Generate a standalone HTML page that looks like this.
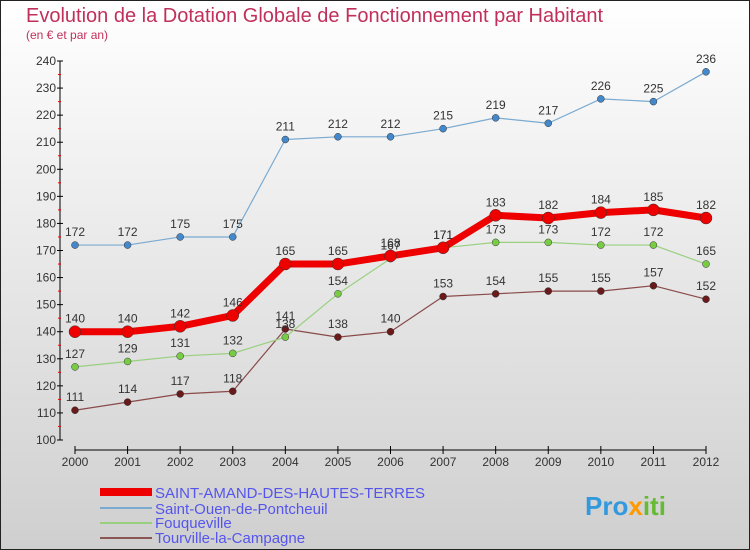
<!DOCTYPE html>
<html><head><meta charset="utf-8"><style>
body{margin:0}
svg{display:block;font-family:"Liberation Sans",sans-serif}
</style></head><body>
<svg id="c" width="750" height="550" viewBox="0 0 750 550">
<defs><linearGradient id="bg" x1="0" y1="0" x2="0" y2="1"><stop offset="0" stop-color="#ffffff"/><stop offset="1" stop-color="#cfcfcf"/></linearGradient></defs>
<rect x="0.5" y="0.5" width="749" height="549" fill="url(#bg)" stroke="#222"/>
<text x="26" y="22" font-size="20" fill="#c0305a">Evolution de la Dotation Globale de Fonctionnement par Habitant</text>
<text x="26" y="39" font-size="12" fill="#c0305a">(en € et par an)</text>
<g id="axes"></g><g id="series"></g>
<g>
<rect x="100" y="488" width="52" height="8" fill="#e00"/>
<text x="155" y="498" font-size="15" fill="#5555ee">SAINT-AMAND-DES-HAUTES-TERRES</text>
<rect x="100" y="507" width="52" height="2" fill="#7aaad0"/>
<text x="155" y="514" font-size="15" fill="#5555ee">Saint-Ouen-de-Pontcheuil</text>
<rect x="100" y="522" width="52" height="2" fill="#99d080"/>
<text x="155" y="528" font-size="15" fill="#5555ee">Fouqueville</text>
<rect x="100" y="537" width="52" height="2" fill="#8a5555"/>
<text x="155" y="543" font-size="15" fill="#5555ee">Tourville-la-Campagne</text>
</g>
<text x="585" y="515" font-size="26" font-weight="bold" fill="#3399dd">Pro<tspan fill="#ff9900">x</tspan><tspan fill="#66bb33">iti</tspan></text>
</svg>
<script>
const years=[2000,2001,2002,2003,2004,2005,2006,2007,2008,2009,2010,2011,2012];
const yTicks=[100,110,120,130,140,150,160,170,180,190,200,210,220,230,240];
const saintAmand=[140,140,142,146,165,165,168,171,183,182,184,185,182];
const saintOuen=[172,172,175,175,211,212,212,215,219,217,226,225,236];
const fouqueville=[127,129,131,132,138,154,167,171,173,173,172,172,165];
const tourville=[111,114,117,118,141,138,140,153,154,155,155,157,152];
const NS='http://www.w3.org/2000/svg';
const xs=i=>75+i*(706-75)/12;
const ys=v=>440-(v-100)*(440-61)/140;
function mk(t,a,p){const e=document.createElementNS(NS,t);for(const k in a)e.setAttribute(k,a[k]);p.appendChild(e);return e;}
const ax=document.getElementById('axes');
let yl=mk('line',{x1:60,y1:61,x2:60,y2:440,stroke:'#000'},ax);


yTicks.forEach((v,i)=>{
  mk('line',{x1:57,y1:ys(v),x2:63,y2:ys(v),stroke:'#000'},ax);
  if(i<yTicks.length-1)mk('line',{x1:58,y1:ys(v+5),x2:61,y2:ys(v+5),stroke:'#e00'},ax);
  const t=mk('text',{x:56,y:ys(v)+4,'font-size':12,'text-anchor':'end',fill:'#333'},ax);t.textContent=v;
  
  
});
let xl=mk('line',{x1:75,y1:450,x2:706,y2:450,stroke:'#000'},ax);


years.forEach((y,i)=>{
  mk('line',{x1:xs(i),y1:446,x2:xs(i),y2:454,stroke:'#000'},ax);
  const t=mk('text',{x:xs(i),y:466,'font-size':12,'text-anchor':'middle',fill:'#333'},ax);t.textContent=y;
  
  
});
const sg=document.getElementById('series');
function series(data,name,color,w,dot,dotFill){
  const g=mk('g',{},sg);
  
  
  mk('polyline',{points:data.map((v,i)=>xs(i)+','+ys(v)).join(' '),fill:'none',stroke:color,'stroke-width':w,'stroke-linejoin':'round'},g);
  data.forEach((v,i)=>{
    const c=mk('circle',{cx:xs(i),cy:ys(v),r:dot,fill:dotFill,stroke:'#333','stroke-width':0.5},g);
    
    
    const t=mk('text',{x:xs(i),y:ys(v)-9,'font-size':12,'text-anchor':'middle',fill:'#333'},g);t.textContent=v;
    
    
  });
}
series(tourville,'series-tourville','#8a4a4a',1.2,3.5,'#6a1a1a');
series(fouqueville,'series-fouqueville','#99d080',1.2,3.5,'#77cc44');
series(saintOuen,'series-saint-ouen','#7aaad0',1.2,3.5,'#4488cc');
series(saintAmand,'series-saint-amand','#ee0000',7,6,'#ee0000');
</script>
</body></html>
